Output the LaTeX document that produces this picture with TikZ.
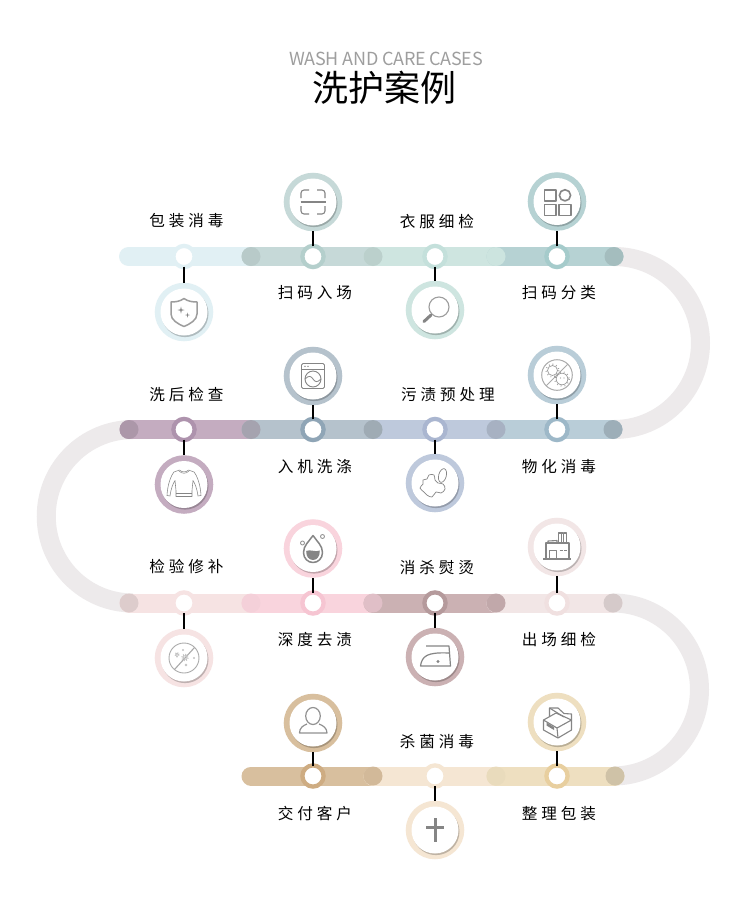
\documentclass[tikz,border=0pt]{standalone}
\usepackage{fontspec}
\usepackage{xcolor}
\usetikzlibrary{shadows}
\newfontfamily\cjkfont{Noto Sans CJK SC}
\newfontfamily\cjkwide[LetterSpace=25]{Noto Sans CJK SC}
\newfontfamily\cjktight[LetterSpace=-1.5]{Noto Sans CJK SC}
\definecolor{packblue}{HTML}{E1F0F4}
\definecolor{scangreen}{HTML}{C6D9D8}
\definecolor{mintgreen}{HTML}{CEE5E0}
\definecolor{sortteal}{HTML}{B6D2D3}
\definecolor{checkmauve}{HTML}{C4ACC0}
\definecolor{washslate}{HTML}{B5C2CC}
\definecolor{stainblue}{HTML}{BEC9DC}
\definecolor{disinfblue}{HTML}{B9CDD8}
\definecolor{repairrose}{HTML}{F6E3E3}
\definecolor{deeppink}{HTML}{F9D4DD}
\definecolor{ironbrown}{HTML}{CBB1B3}
\definecolor{exitrose}{HTML}{F2E6E6}
\definecolor{clientsand}{HTML}{D8BF9E}
\definecolor{germcream}{HTML}{F5E6D3}
\definecolor{boxwheat}{HTML}{EEDFC0}
\definecolor{scanring}{HTML}{B4CFCC}
\definecolor{inspectring}{HTML}{C4E0DB}
\definecolor{sortring}{HTML}{A5CBCB}
\definecolor{afterring}{HTML}{AE93AD}
\definecolor{machinering}{HTML}{8FA5B6}
\definecolor{stainring}{HTML}{AAB6D0}
\definecolor{physicalring}{HTML}{9DB8C8}
\definecolor{deepring}{HTML}{F6C5D2}
\definecolor{pressring}{HTML}{B59A9C}
\definecolor{exitring}{HTML}{F0E0E0}
\definecolor{clientring}{HTML}{CEAC82}
\definecolor{boxring}{HTML}{E8CF9F}
\definecolor{turngrey}{HTML}{EDEAEB}
\definecolor{icongrey}{HTML}{858585}
\tikzset{
  ic/.style={draw=icongrey, line width=1.1pt, line join=round},
  iconshield/.pic={
    \draw[ic, draw=icongrey!80, line width=1.5pt] (0,-13.5) .. controls (4,-10.5) and (9,-10) .. (13,-10) -- (13,2) .. controls (13,8) and (6,12) .. (0,14.5) .. controls (-6,12) and (-13,8) .. (-13,2) -- (-13,-10) .. controls (-9,-10) and (-4,-10.5) .. (0,-13.5) -- cycle;
    \fill[icongrey] (-3,-5.5) -- (-2.3,-2.7) -- (0.5,-2) -- (-2.3,-1.3) -- (-3,1.5) -- (-3.7,-1.3) -- (-6.5,-2) -- (-3.7,-2.7) -- cycle;
    \fill[icongrey] (3.5,0.5) -- (4,2.5) -- (6,3) -- (4,3.5) -- (3.5,5.5) -- (3,3.5) -- (1,3) -- (3,2.5) -- cycle;
  },
  iconscan/.pic={
    \draw[ic] (-12,-4) -- (-12,-9) arc[start angle=180, end angle=270, radius=3] -- (-4,-12);
    \draw[ic] (4,-12) -- (9,-12) arc[start angle=270, end angle=360, radius=3] -- (12,-4);
    \draw[ic] (12,4) -- (12,9) arc[start angle=0, end angle=90, radius=3] -- (4,12);
    \draw[ic] (-4,12) -- (-9,12) arc[start angle=90, end angle=180, radius=3] -- (-12,4);
    \draw[ic] (-12.5,0) -- (12.5,0);
  },
  iconlens/.pic={
    \draw[ic, draw=icongrey!80] (4,-3) circle (10);
    \draw[icongrey, line width=3pt, line cap=round] (-4,5) -- (-11,11.5);
  },
  icongrid/.pic={
    \draw[ic, line width=1.6pt] (-12.7,-11.5) rectangle (-1.3,-0.5);
    \draw[ic, line width=1.6pt] (8,-6.2) circle (5.6);
    \draw[ic, line width=1.6pt] (-12.7,2.8) rectangle (-1.3,13.8);
    \draw[ic, line width=1.6pt] (2,2.8) rectangle (13.7,13.8);
  },
  iconshirt/.pic={
    \draw[ic, line width=.55pt] (-4.5,-14.5) .. controls (-2,-12) and (2,-12) .. (4.5,-14.5) -- (10,-12.5) .. controls (13,-9) and (16.5,0) .. (17,11) -- (14,11.5) .. controls (13,4) and (11,-1) .. (9,-4) -- (8,6) -- (8,12) -- (-8,12) -- (-8,6) -- (-9,-4) .. controls (-11,-1) and (-13,4) .. (-14,11.5) -- (-17,11) .. controls (-16.5,0) and (-13,-9) .. (-10,-12.5) -- cycle;
    \draw[ic, line width=.5pt] (-8,9) -- (8,9);
    \draw[ic, line width=.5pt] (-5,-13.5) .. controls (-2,-10.5) and (2,-10.5) .. (5,-13.5);
  },
  iconwasher/.pic={
    \draw[ic, line width=.9pt, rounded corners=1.5pt] (-11.5,-12.5) rectangle (11.5,12.5);
    \draw[ic, line width=.7pt] (-11.5,-7) -- (11.5,-7);
    \draw[ic, line width=.9pt] (0,3) circle (8);
    \draw[ic, line width=.8pt] (-8,3) .. controls (-4,-1) and (-2,0) .. (0,3) .. controls (2,6) and (4,7) .. (8,3);
    \fill[icongrey] (-8,-9.7) circle (.8);
    \fill[icongrey] (-5,-9.7) circle (.8);
  },
  iconblob/.pic={
    \draw[ic, line width=.7pt] plot[smooth cycle, tension=.7] coordinates {(-15,5) (-12,1) (-12,-3) (-8,-4) (-6,-8) (-1,-8) (0,-3) (3,0) (8,1) (10,6) (6,10) (1,9) (-3,14) (-8,12) (-11,9)};
    \draw[ic, line width=.7pt] (7.5,-7.5) ellipse[x radius=3.8, y radius=7, rotate=-15];
  },
  iconvirus/.pic={
    \draw[ic, line width=1pt, draw=icongrey!70] (0,0) circle (15.3);
    \draw[ic, line width=1pt, draw=icongrey!70] (-10.8,10.8) -- (10.8,-10.8);
    \draw[ic, line width=.7pt, draw=icongrey!80] (-4.5,-4.5) circle (5);
    \draw[icongrey!80, line width=1.5pt, dash pattern=on .7pt off 3pt] (-4.5,-4.5) circle (6.3);
    \draw[ic, line width=.7pt, draw=icongrey!80] (5,4) circle (5.8);
    \draw[icongrey!80, line width=1.5pt, dash pattern=on .7pt off 3.2pt] (5,4) circle (7.1);
    \fill[icongrey!80] (3.5,3) circle (.7);
    \fill[icongrey!80] (7,3) circle (.7);
  },
  icondrop/.pic={
    \draw[ic, line width=1.5pt] (0,-13) .. controls (4,-7) and (9.5,-3) .. (9.5,4) .. controls (9.5,10) and (5,14) .. (0,14) .. controls (-5,14) and (-9.5,10) .. (-9.5,4) .. controls (-9.5,-3) and (-4,-7) .. (0,-13) -- cycle;
    \fill[icongrey] (-6.8,2.5) .. controls (-3,0.5) and (3,4) .. (6.8,2) .. controls (7,8) and (4,11.5) .. (0,11.5) .. controls (-4,11.5) and (-7,8) .. (-6.8,2.5) -- cycle;
    \draw[ic, line width=.9pt, draw=icongrey!85] (-10.5,-5.5) circle (2);
    \draw[ic, line width=.9pt, draw=icongrey!85] (9.5,-12) circle (2);
  },
  iconsnow/.pic={
    \draw[ic, line width=.9pt, draw=icongrey!70] (0,0) circle (15);
    \draw[ic, line width=1.1pt, draw=icongrey!70] (-9.5,11.5) -- (10.5,-10.5);
    \draw[icongrey!50, line width=2pt, dash pattern=on 1pt off 1pt] (-7,-3.5) circle (1.8);
    \draw[icongrey!50, line width=2.4pt, dash pattern=on 1pt off 1pt] (1,-.5) circle (2.6);
    \fill[icongrey!50] (-1,-8) circle (1.1);
    \fill[icongrey!50] (10,0) circle (1.1);
    \fill[icongrey!50] (2,7) circle (1.4);
  },
  iconfactory/.pic={
    \draw[ic, line width=1.4pt] (-14,12) -- (14,12);
    \draw[ic] (-11,12) -- (-11,-4) -- (12,-4) -- (12,12);
    \draw[ic] (-9,-4) -- (-9,-6) -- (0,-6.5) -- (0,-4);
    \draw[ic] (1.5,-4) -- (1.5,-14) -- (4.2,-14) -- (4.2,-4);
    \draw[ic] (4.2,-14) -- (6.8,-14) -- (6.8,-4);
    \draw[ic] (6.8,-14) -- (9.5,-14) -- (9.5,-4);
    \draw[ic] (-7.5,12) -- (-7.5,3.5) -- (-.5,3.5) -- (-.5,12);
    \draw[ic] (2.5,3.5) -- (5.5,3.5);
    \draw[ic] (6.8,3.5) -- (9.8,3.5);
  },
  iconiron/.pic={
    \draw[ic, line width=1.2pt] (-9,-11) -- (14,-11) -- (15.5,9) -- (-14.5,9) .. controls (-13,-1) and (-8,-5) .. (14,-4);
    \fill[icongrey] (3,4.5) circle (1.6);
  },
  iconperson/.pic={
    \draw[ic, line width=1.2pt, draw=icongrey!90] (0,-7) ellipse[x radius=7.3, y radius=8.5];
    \draw[ic, line width=1.2pt, draw=icongrey!90] (-6,1) .. controls (-10,2.5) and (-13.5,5) .. (-13.5,10) -- (14,10) .. controls (14,5) and (10,2.5) .. (6,1);
  },
  iconbox/.pic={
    \draw[ic] (-13.5,-2) -- (0,6) -- (14.5,-2) -- (14.5,8) -- (1,16) -- (-13.5,8) -- cycle;
    \draw[ic] (0,6) -- (1,16);
    \draw[ic] (-13.5,-2) -- (-1,-9) -- (14.5,-2);
    \draw[ic] (-7.5,-6) -- (-7.5,-14) -- (1,-14) -- (7,-8.5) -- (14.5,-8) -- (14.5,-2);
    \draw[ic] (-7.5,-14) -- (7,-5);
    \fill[icongrey] (-10.5,0.5) -- (-3,5) -- (-3,8) -- (-10.5,3.5) -- cycle;
  },
  iconplus/.pic={
    \draw[icongrey, line width=3pt] (0,-12) -- (0,12);
    \draw[icongrey, line width=3pt] (-9,-2.5) -- (9,-2.5);
  }
}
\begin{document}
\begin{tikzpicture}[
  x=1pt, y=-1pt,
  turn/.style={draw=turngrey, line width=19pt},
  bar/.style={draw=#1, line width=19pt, line cap=round},
  capdot/.style={circle, fill=#1, minimum size=19pt, inner sep=0pt},
  stopdot/.style={circle, fill=white, draw=#1, line width=4.25pt, minimum size=21.2pt, inner sep=0pt},
  iconring/.style={circle, fill=white, minimum size=47pt, inner sep=0pt, outer sep=5.75pt,
    preaction={draw=#1, line width=11.5pt},
    drop shadow={shadow xshift=1pt, shadow yshift=-1.6pt, fill=black, opacity=.22}},
  stem/.style={draw=black, line width=2pt, shorten <=-2.5pt},
  steplabel/.style={font=\cjkwide\fontsize{15.6}{18}\selectfont, inner sep=0pt}
]

  \path[use as bounding box, fill=white] (0,0) rectangle (750,922);

  % Titolo
  \node[font=\cjktight\fontsize{18}{22}\selectfont, text=black!38, inner sep=0pt] (subtitle) at (386,59) {WASH AND CARE CASES};
  \node[font=\cjkfont\fontsize{36}{42}\selectfont, inner sep=0pt] (title) at (384.5,87.5) {洗护案例};

  % Punti delle quattro fasce
  \coordinate (a0) at (128.5,256.5); \coordinate (a1) at (251,256.5); \coordinate (a2) at (373,256.5); \coordinate (a3) at (496,256.5); \coordinate (a4) at (614,256.5);
  \coordinate (b0) at (129,429.5); \coordinate (b1) at (251,429.5); \coordinate (b2) at (373,429.5); \coordinate (b3) at (496,429.5); \coordinate (b4) at (613,429.5);
  \coordinate (c0) at (129,603); \coordinate (c1) at (251,603); \coordinate (c2) at (373,603); \coordinate (c3) at (496,603); \coordinate (c4) at (613,603);
  \coordinate (d1) at (251,776); \coordinate (d2) at (373,776); \coordinate (d3) at (496,776); \coordinate (d4) at (615,776);
  \coordinate (leftturn) at (133,429.5);

  % Curve grigie
  \draw[turn] (a4) arc[start angle=-90, end angle=90, radius=86.5];
  \draw[turn] (leftturn) arc[start angle=270, end angle=90, radius=86.75];
  \draw[turn] (c4) arc[start angle=-90, end angle=90, radius=86.5];

  % Fasce
  \draw[bar=packblue] (a0) -- (a1);
  \draw[bar=scangreen] (a1) -- (a2);
  \draw[bar=mintgreen] (a2) -- (a3);
  \draw[bar=sortteal] (a3) -- (a4);
  \draw[bar=checkmauve] (b0) -- (b1);
  \draw[bar=washslate] (b1) -- (b2);
  \draw[bar=stainblue] (b2) -- (b3);
  \draw[bar=disinfblue] (b3) -- (b4);
  \draw[bar=repairrose] (c0) -- (c1);
  \draw[bar=deeppink] (c1) -- (c2);
  \draw[bar=ironbrown] (c2) -- (c3);
  \draw[bar=exitrose] (c3) -- (c4);
  \draw[bar=clientsand] (d1) -- (d2);
  \draw[bar=germcream] (d2) -- (d3);
  \draw[bar=boxwheat] (d3) -- (d4);

  % Giunzioni
  \node[capdot=scangreen!93!black] (cap11) at (a1) {};
  \node[capdot=mintgreen!91!black] (cap12) at (a2) {};
  \node[capdot=mintgreen!93!sortteal] (cap13) at (a3) {};
  \node[capdot=sortteal!90!black] (cap14) at (a4) {};
  \node[capdot=checkmauve!88!black] (cap20) at (b0) {};
  \node[capdot=washslate!60!checkmauve!88!black] (cap21) at (b1) {};
  \node[capdot=washslate!88!black] (cap22) at (b2) {};
  \node[capdot=stainblue!88!black] (cap23) at (b3) {};
  \node[capdot=disinfblue!85!black] (cap24) at (b4) {};
  \node[capdot=repairrose!90!black] (cap30) at (c0) {};
  \node[capdot=deeppink!98!black] (cap31) at (c1) {};
  \node[capdot=deeppink!90!black] (cap32) at (c2) {};
  \node[capdot=ironbrown!95!black] (cap33) at (c3) {};
  \node[capdot=exitrose!88!black] (cap34) at (c4) {};
  \node[capdot=clientsand!97!black] (cap42) at (d2) {};
  \node[capdot=boxwheat!98!black] (cap43) at (d3) {};
  \node[capdot=boxwheat!87!black] (cap44) at (d4) {};

  % Prima fascia
  \node[stopdot=packblue] (pack) at (184,256.5) {};
  \node[stopdot=scanring] (scan) at (313,256.5) {};
  \node[stopdot=inspectring] (inspect) at (435,256.5) {};
  \node[stopdot=sortring] (sort) at (557,256.5) {};
  \node[iconring=packblue] (packicon) at (184,312) {};
  \node[iconring=scangreen] (scanicon) at (313,202) {};
  \node[iconring=mintgreen] (inspecticon) at (435,310) {};
  \node[iconring=sortteal] (sorticon) at (557,201.5) {};
  \draw[stem] (pack) -- (packicon);
  \draw[stem] (scan) -- (scanicon);
  \draw[stem] (inspect) -- (inspecticon);
  \draw[stem] (sort) -- (sorticon);
  \pic at (packicon) {iconshield};
  \pic at (scanicon) {iconscan};
  \pic at (inspecticon) {iconlens};
  \pic at (sorticon) {icongrid};
  \node[steplabel] (packtext) at (186.5,220.5) {包装消毒};
  \node[steplabel] (scantext) at (315,292.5) {扫码入场};
  \node[steplabel] (inspecttext) at (437,221.5) {衣服细检};
  \node[steplabel] (sorttext) at (559,292.5) {扫码分类};

  % Seconda fascia
  \node[stopdot=afterring] (after) at (184,429.5) {};
  \node[stopdot=machinering] (machine) at (313,429.5) {};
  \node[stopdot=stainring] (stain) at (435,429.5) {};
  \node[stopdot=physicalring] (physical) at (557,429.5) {};
  \node[iconring=checkmauve] (aftericon) at (184,484.5) {};
  \node[iconring=washslate] (machineicon) at (313,376) {};
  \node[iconring=stainblue] (stainicon) at (435,483) {};
  \node[iconring=disinfblue] (physicalicon) at (557,375) {};
  \draw[stem] (after) -- (aftericon);
  \draw[stem] (machine) -- (machineicon);
  \draw[stem] (stain) -- (stainicon);
  \draw[stem] (physical) -- (physicalicon);
  \pic at (aftericon) {iconshirt};
  \pic at (machineicon) {iconwasher};
  \pic at (stainicon) {iconblob};
  \pic at (physicalicon) {iconvirus};
  \node[steplabel] (aftertext) at (186.5,394.5) {洗后检查};
  \node[steplabel] (machinetext) at (315,466.5) {入机洗涤};
  \node[steplabel] (staintext) at (448,394.5) {污渍预处理};
  \node[steplabel] (physicaltext) at (559,466.5) {物化消毒};

  % Terza fascia
  \node[stopdot=repairrose] (repair) at (184,603) {};
  \node[stopdot=deepring] (deep) at (313,603) {};
  \node[stopdot=pressring] (press) at (435,603) {};
  \node[stopdot=exitring] (exit) at (557,603) {};
  \node[iconring=repairrose] (repairicon) at (184,658) {};
  \node[iconring=deeppink] (deepicon) at (313,548.5) {};
  \node[iconring=ironbrown] (pressicon) at (435,657) {};
  \node[iconring=exitrose] (exiticon) at (557,547) {};
  \draw[stem] (repair) -- (repairicon);
  \draw[stem] (deep) -- (deepicon);
  \draw[stem] (press) -- (pressicon);
  \draw[stem] (exit) -- (exiticon);
  \pic at (repairicon) {iconsnow};
  \pic at (deepicon) {icondrop};
  \pic at (pressicon) {iconiron};
  \pic at (exiticon) {iconfactory};
  \node[steplabel] (repairtext) at (186.5,566.5) {检验修补};
  \node[steplabel] (deeptext) at (315,639.5) {深度去渍};
  \node[steplabel] (presstext) at (437,567.5) {消杀熨烫};
  \node[steplabel] (exittext) at (559,639.5) {出场细检};

  % Quarta fascia
  \node[stopdot=clientring] (client) at (313,776) {};
  \node[stopdot=germcream] (germ) at (435,776) {};
  \node[stopdot=boxring] (box) at (557,776) {};
  \node[iconring=clientsand] (clienticon) at (313,723) {};
  \node[iconring=germcream] (germicon) at (435,830) {};
  \node[iconring=boxwheat] (boxicon) at (557,722) {};
  \draw[stem] (client) -- (clienticon);
  \draw[stem] (germ) -- (germicon);
  \draw[stem] (box) -- (boxicon);
  \pic at (clienticon) {iconperson};
  \pic at (germicon) {iconplus};
  \pic at (boxicon) {iconbox};
  \node[steplabel] (clienttext) at (315,813.5) {交付客户};
  \node[steplabel] (germtext) at (437,741.5) {杀菌消毒};
  \node[steplabel] (boxtext) at (559,813.5) {整理包装};

\end{tikzpicture}
\end{document}
